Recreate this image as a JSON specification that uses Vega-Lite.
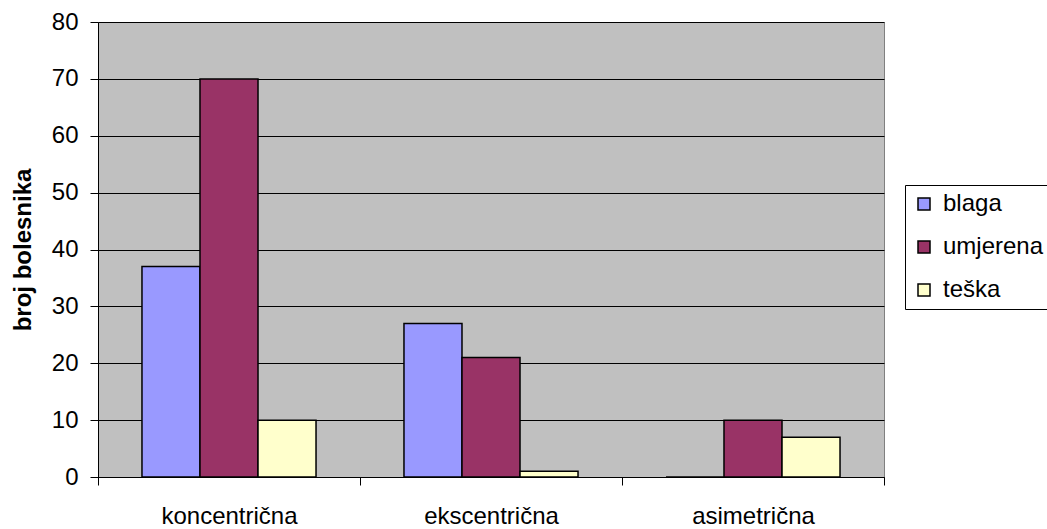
{
  "$schema": "https://vega.github.io/schema/vega-lite/v6.json",
  "width": 786,
  "height": 455,
  "autosize": {"type": "none"},
  "padding": {"left": 98, "top": 22, "right": 163, "bottom": 52},
  "background": "white",
  "config": {
    "view": {"fill": "#C0C0C0", "stroke": "#808080", "strokeWidth": 1},
    "font": "Liberation Sans"
  },
  "data": {
    "values": [
      {"tip": "koncentrična", "tezina": "blaga", "broj": 37},
      {"tip": "koncentrična", "tezina": "umjerena", "broj": 70},
      {"tip": "koncentrična", "tezina": "teška", "broj": 10},
      {"tip": "ekscentrična", "tezina": "blaga", "broj": 27},
      {"tip": "ekscentrična", "tezina": "umjerena", "broj": 21},
      {"tip": "ekscentrična", "tezina": "teška", "broj": 1},
      {"tip": "asimetrična", "tezina": "blaga", "broj": 0},
      {"tip": "asimetrična", "tezina": "umjerena", "broj": 10},
      {"tip": "asimetrična", "tezina": "teška", "broj": 7}
    ]
  },
  "mark": {"type": "bar", "stroke": "black", "strokeWidth": 1.5},
  "encoding": {
    "x": {
      "field": "tip",
      "type": "nominal",
      "sort": ["koncentrična", "ekscentrična", "asimetrična"],
      "scale": {"paddingInner": 0, "paddingOuter": 0},
      "axis": {
        "title": null,
        "labelAngle": 0,
        "tickBand": "extent",
        "tickSize": 8,
        "tickColor": "black",
        "domainColor": "black",
        "labelFontSize": 24,
        "labelPadding": 19,
        "labelColor": "black"
      }
    },
    "xOffset": {
      "field": "tezina",
      "type": "nominal",
      "sort": ["blaga", "umjerena", "teška"],
      "scale": {"paddingInner": 0, "paddingOuter": 0.758}
    },
    "y": {
      "field": "broj",
      "type": "quantitative",
      "scale": {"domain": [0, 80]},
      "axis": {
        "title": "broj bolesnika",
        "values": [0, 10, 20, 30, 40, 50, 60, 70, 80],
        "gridColor": "black",
        "gridOpacity": 1,
        "tickColor": "black",
        "domainColor": "black",
        "tickSize": 8,
        "labelFontSize": 24,
        "labelPadding": 12,
        "labelColor": "black",
        "titleFontSize": 24,
        "titleFontWeight": "bold",
        "titlePadding": 16,
        "titleColor": "black"
      }
    },
    "color": {
      "field": "tezina",
      "type": "nominal",
      "scale": {"domain": ["blaga", "umjerena", "teška"], "range": ["#9999FF", "#993366", "#FFFFCC"]},
      "legend": {
        "title": null,
        "orient": "none",
        "legendX": 807,
        "legendY": 163,
        "strokeColor": "black",
        "fillColor": "white",
        "padding": 7,
        "symbolType": "square",
        "symbolSize": 144,
        "symbolStrokeColor": "black",
        "symbolStrokeWidth": 1.5,
        "symbolOpacity": 1,
        "labelFontSize": 24,
        "labelOffset": 7,
        "labelColor": "black",
        "rowPadding": 19
      }
    }
  }
}
